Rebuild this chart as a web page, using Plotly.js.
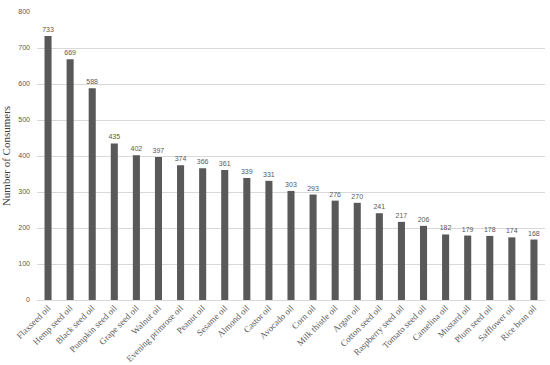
<!DOCTYPE html>
<html><head><meta charset="utf-8">
<script src="https://cdn.plot.ly/plotly-3.0.1.min.js"></script>
<style>html,body{margin:0;padding:0;background:#fff}</style>
</head><body>
<div id="chart" style="width:550px;height:365px"></div>
<script>
const categories = ["Flaxseed oil","Hemp seed oil","Black seed oil","Pumpkin seed oil","Grape seed oil","Walnut oil","Evening primrose oil","Peanut oil","Sesame oil","Almond oil","Castor oil","Avocado oil","Corn oil","Milk thistle oil","Argan oil","Cotton seed oil","Raspberry seed oil","Tomato seed oil","Camelina oil","Mustard oil","Plum seed oil","Safflower oil","Rice bran oil"];
const consumers = [733,669,588,435,402,397,374,366,361,339,331,303,293,276,270,241,217,206,182,179,178,174,168];
const yTicks = [0,100,200,300,400,500,600,700,800];

Plotly.newPlot('chart', [{
  type: 'bar',
  x: categories,
  y: consumers,
  text: consumers.map(String),
  textposition: 'outside',
  constraintext: 'none',
  cliponaxis: false,
  textfont: {family: 'Liberation Sans, Arial, sans-serif', size: 7, color: '#595959'},
  marker: {color: '#595959'},
  hoverinfo: 'none'
}], {
  width: 550, height: 365,
  margin: {l: 37, r: 5, t: 12, b: 65},
  paper_bgcolor: '#fff', plot_bgcolor: '#fff',
  bargap: 0.68,
  showlegend: false,
  xaxis: {
    tickangle: -45,
    tickfont: {family: 'Liberation Serif, Times New Roman, serif', size: 9, color: '#595959'},
    showgrid: false, showline: false, ticks: '', automargin: false
  },
  yaxis: {
    range: [0, 800], tickvals: yTicks, ticktext: yTicks.map(String),
    tickfont: {family: 'Liberation Sans, Arial, sans-serif', size: 7, color: '#595959'},
    gridcolor: '#d9d9d9', gridwidth: 1, zeroline: true, zerolinecolor: '#d9d9d9',
    showline: false, ticks: '', ticklabelstandoff: 6, automargin: false,
    title: {text: 'Number of Consumers', font: {family: 'Liberation Serif, Times New Roman, serif', size: 11, color: '#404040'}, standoff: 10}
  }
}, {displayModeBar: false, staticPlot: true});
</script>
</body></html>
